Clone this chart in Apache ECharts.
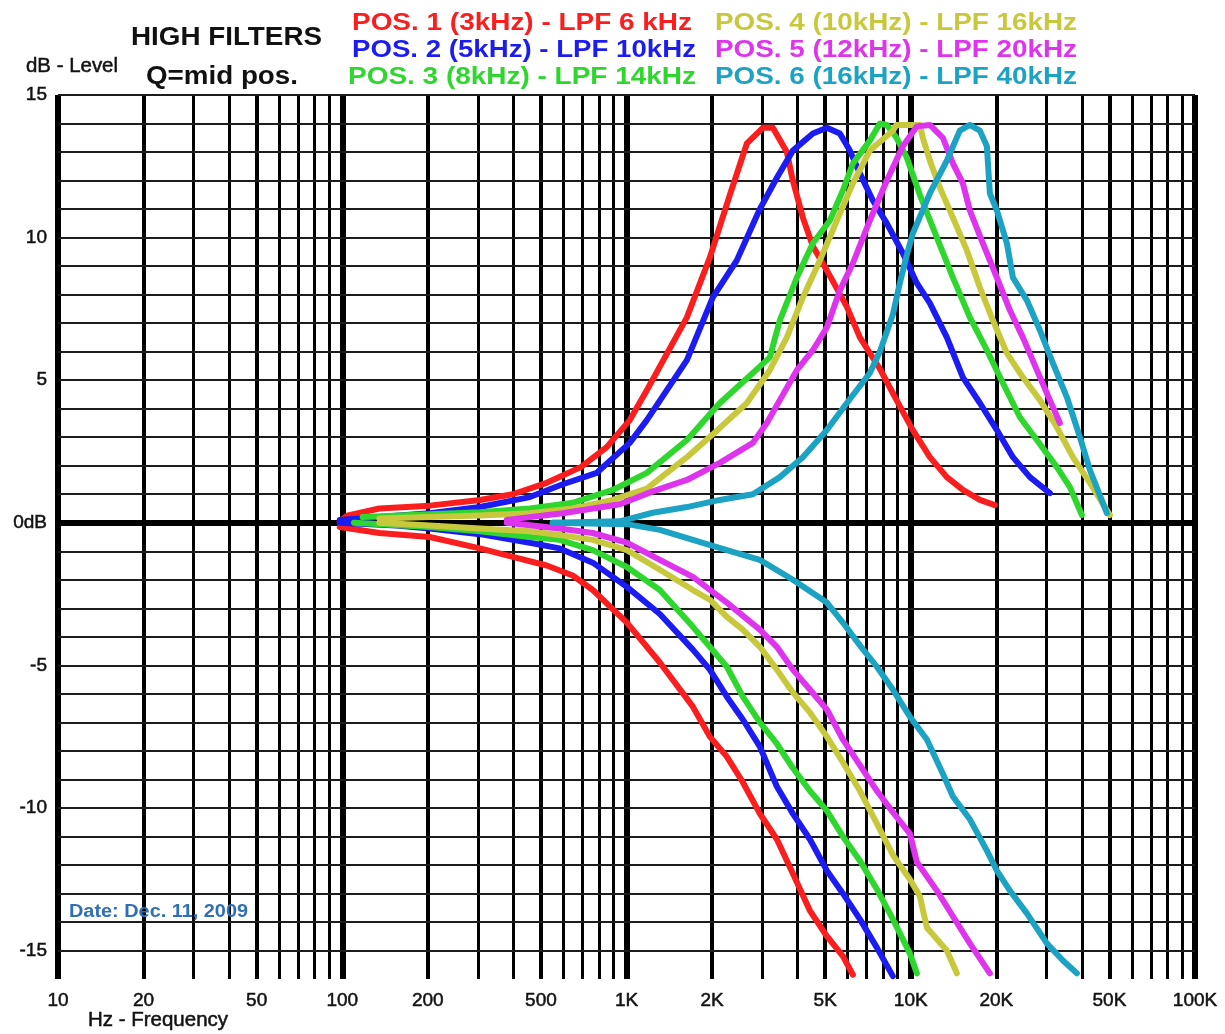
<!DOCTYPE html>
<html><head><meta charset="utf-8">
<script src="https://cdn.jsdelivr.net/npm/echarts@6/dist/echarts.min.js"></script>
<style>html,body{margin:0;padding:0;background:#fff}#c{width:1225px;height:1034px}</style>
</head><body><div id="c"></div>
<script>
// ---------- DATA ----------
const seriesNames = [
  'POS. 1 (3kHz) - LPF 6 kHz',
  'POS. 2 (5kHz) - LPF 10kHz',
  'POS. 3 (8kHz) - LPF 14kHz',
  'POS. 4 (10kHz) - LPF 16kHz',
  'POS. 5 (12kHz) - LPF 20kHz',
  'POS. 6 (16kHz) - LPF 40kHz'
];
const seriesColors = ['#fa1e1e', '#1c1cf2', '#2ed62e', '#c8c83c', '#de34ee', '#1ca2c2'];

const pos1Boost = [[98,0.05],[104,0.25],[135,0.5],[203,0.6],[305,0.8],[398,1.0],[524,1.4],[691,1.95],[852,2.65],[1027,3.6],[1179,4.65],[1631,7.2],[1964,9.3],[2310,11.5],[2651,13.3],[3018,13.85],[3272,13.85],[3665,13.0],[3848,12.0],[4173,10.7],[4525,9.7],[5069,8.85],[5962,7.57],[6622,6.5],[7786,5.4],[8913,4.3],[10171,3.25],[11675,2.3],[13396,1.6],[15255,1.15],[17505,0.8],[19768,0.62]];
const pos1Cut = [[98,-0.15],[135,-0.36],[203,-0.5],[305,-0.9],[398,-1.2],[524,-1.5],[647,-1.85],[761,-2.36],[1003,-3.5],[1310,-4.9],[1712,-6.45],[1964,-7.5],[2254,-8.2],[2566,-9.1],[2945,-10.2],[3380,-11.1],[3848,-12.3],[4416,-13.6],[5069,-14.5],[5770,-15.2],[6258,-15.85]];
const pos2Boost = [[98,0.1],[135,0.2],[203,0.33],[305,0.55],[457,0.9],[597,1.35],[786,1.75],[1027,2.8],[1179,3.6],[1631,5.7],[2012,7.9],[2444,9.2],[2945,11.0],[3380,12.1],[3848,13.05],[4525,13.65],[5069,13.85],[5632,13.65],[6107,13.05],[6622,12.25],[7357,11.3],[8240,10.5],[9380,9.45],[10507,8.4],[11675,7.7],[13396,6.5],[15255,5.1],[17505,4.2],[20090,3.25],[22875,2.3],[26250,1.6],[30860,1.04]];
const pos2Cut = [[98,0],[155,-0.1],[203,-0.2],[305,-0.4],[457,-0.7],[582,-0.9],[761,-1.4],[1003,-2.25],[1310,-3.2],[1712,-4.45],[1964,-5.15],[2254,-6.1],[2566,-6.9],[2945,-7.85],[3380,-9.25],[3848,-10.2],[4416,-11.1],[5069,-12.2],[5770,-13.0],[6622,-13.9],[7600,-14.9],[8650,-15.9]];
const pos3Boost = [[118,0.2],[203,0.3],[305,0.37],[457,0.5],[647,0.7],[895,1.15],[1179,1.75],[1631,2.9],[2130,4.2],[2783,5.25],[3193,5.8],[3463,7.1],[3975,8.6],[4525,9.8],[5194,10.6],[5770,11.65],[6258,12.6],[7180,13.4],[7786,14.0],[8240,13.95],[8913,13.5],[9689,12.8],[10766,11.5],[12357,10.0],[14067,8.6],[16142,7.2],[18528,6.05],[21090,4.9],[24210,3.7],[27780,2.9],[32670,1.95],[36290,1.25],[40000,0.27]];
const pos3Cut = [[110,0],[203,-0.15],[305,-0.3],[457,-0.5],[582,-0.6],[761,-0.96],[1003,-1.55],[1310,-2.36],[1712,-3.65],[1964,-4.35],[2254,-5.05],[2566,-6.1],[2945,-7.0],[3380,-7.75],[3848,-8.6],[4416,-9.4],[5069,-10.1],[5770,-11.0],[6622,-11.85],[7600,-12.85],[8650,-13.9],[9927,-15.1],[10507,-15.8]];
const pos4Boost = [[135,0.15],[203,0.2],[305,0.25],[457,0.33],[647,0.5],[895,0.8],[1179,1.2],[1631,2.3],[2012,3.1],[2651,4.2],[3193,5.35],[3665,6.5],[4173,7.9],[4789,9.2],[5496,10.6],[6258,11.9],[7180,13.05],[8650,13.75],[8913,13.95],[10766,13.95],[11030,13.5],[11675,12.7],[12660,11.75],[14067,10.7],[15757,9.55],[17505,8.25],[19451,7.1],[21785,5.95],[24800,5.1],[28470,4.3],[32670,3.35],[37190,2.3],[42680,1.4],[50190,0.27]];
const pos4Cut = [[135,0],[203,-0.1],[305,-0.2],[457,-0.3],[582,-0.43],[761,-0.6],[1003,-0.96],[1310,-1.65],[1712,-2.36],[1964,-2.7],[2254,-3.3],[2566,-3.75],[2945,-4.35],[3380,-5.15],[3848,-5.95],[4416,-6.65],[5069,-7.5],[5770,-8.4],[6622,-9.4],[7600,-10.55],[8650,-11.65],[9927,-12.5],[10766,-13.1],[11395,-14.2],[13396,-15.0],[14530,-15.8]];
const pos5Boost = [[379,0.1],[597,0.33],[947,0.65],[1237,1.1],[1631,1.5],[2130,2.1],[2783,2.8],[3117,3.5],[3463,4.3],[3975,5.35],[4525,6.05],[5069,6.85],[5632,8.15],[6258,9.1],[7180,10.6],[8240,12.0],[9380,13.2],[10507,13.9],[11675,13.95],[12972,13.5],[14067,12.6],[15255,11.9],[16142,10.95],[17938,9.8],[20090,8.6],[22325,7.45],[24800,6.5],[27780,5.35],[30860,4.3],[33470,3.5]];
const pos5Cut = [[379,0],[582,-0.2],[761,-0.36],[1003,-0.7],[1310,-1.3],[1712,-1.9],[2254,-2.8],[2945,-3.75],[3380,-4.35],[3848,-5.15],[4416,-5.85],[5069,-6.55],[5770,-7.6],[6622,-8.5],[7600,-9.4],[8650,-10.15],[9927,-10.9],[10507,-11.9],[12357,-12.9],[14067,-13.8],[16142,-14.75],[18983,-15.8]];
const pos6Boost = [[550,0],[947,0.05],[1237,0.35],[1631,0.55],[2130,0.8],[2783,1.0],[3463,1.6],[4173,2.3],[5069,3.25],[5962,4.2],[7180,5.25],[7786,6.0],[8650,7.3],[9154,8.4],[9689,9.4],[10171,10.15],[11675,11.55],[13396,12.7],[14880,13.75],[16142,13.95],[17505,13.75],[18528,13.2],[18983,11.55],[20090,10.95],[21785,9.8],[22875,8.6],[25620,7.8],[28470,6.75],[31620,5.6],[35430,4.4],[39360,3.0],[42680,1.85],[48980,0.34]];
const pos6Cut = [[550,0],[1003,-0.05],[1310,-0.25],[1712,-0.6],[2254,-0.96],[2945,-1.3],[3848,-2.0],[5069,-2.8],[5770,-3.5],[6622,-4.3],[7600,-5.05],[8650,-5.85],[9927,-6.8],[11395,-7.6],[12972,-8.8],[14067,-9.6],[16142,-10.4],[18528,-11.5],[20090,-12.2],[22325,-12.9],[25620,-13.7],[30120,-14.75],[34300,-15.35],[38410,-15.8]];

const gridFreqs = [10,20,30,40,50,60,70,80,90,100,200,300,400,500,600,700,800,900,1000,2000,3000,4000,5000,6000,7000,8000,9000,10000,20000,30000,40000,50000,60000,70000,80000,90000,100000];
const tickFreqs = [10,20,50,100,200,500,1000,2000,5000,10000,20000,50000,100000];
const tickLabels = ['10','20','50','100','200','500','1K','2K','5K','10K','20K','50K','100K'];
const dbLines = [-15,-14,-13,-12,-11,-10,-9,-8,-7,-6,-5,-4,-3,-2,-1,0,1,2,3,4,5,6,7,8,9,10,11,12,13,14,15];
const yMin = -16, yMax = 15;

// ---------- CHART ----------
const FONT = '"Liberation Sans", Arial, Helvetica, sans-serif';
const chart = echarts.init(document.getElementById('c'), null, {renderer: 'canvas'});

const curveSets = [[pos1Boost,pos1Cut],[pos2Boost,pos2Cut],[pos3Boost,pos3Cut],[pos4Boost,pos4Cut],[pos5Boost,pos5Cut],[pos6Boost,pos6Cut]];

function isDecade(f){ const l = Math.log10(f); return Math.abs(l - Math.round(l)) < 1e-9; }

const vLines = gridFreqs.map(f => {
  const ti = tickFreqs.indexOf(f);
  const d = isDecade(f);
  const mult = Math.round(f / Math.pow(10, Math.floor(Math.log10(f) + 1e-9)));
  const item = {
    xAxis: f,
    lineStyle: {width: d ? 6 : ((mult === 2 || mult === 5) ? 4 : 3), color: '#000', type: 'solid'}
  };
  if (ti >= 0) {
    item.label = {show: true, position: 'start', formatter: tickLabels[ti], distance: 12,
      fontSize: 19, fontFamily: FONT, color: '#111', textBorderColor: '#111', textBorderWidth: 0.5};
  }
  return item;
});
const hLines = dbLines.map(v => ({
  yAxis: v,
  lineStyle: {width: v === 0 ? 6 : 2, color: v === 0 ? '#000' : '#1c1c1c', type: 'solid'}
}));

const series = [{
  type: 'line', data: [], z: 1, silent: true,
  markLine: {silent: true, symbol: ['none','none'], animation: false, precision: 6,
    label: {show: false}, emphasis: {disabled: true},
    data: vLines.concat(hLines)}
}];
curveSets.forEach((pair, i) => {
  pair.forEach(d => {
    series.push({
      name: seriesNames[i], type: 'line', data: d, z: 5 + i,
      showSymbol: false, symbol: 'none', smooth: false, silent: true,
      lineStyle: {width: 6, color: seriesColors[i], cap: 'round', join: 'round'},
      itemStyle: {color: seriesColors[i]}, animation: false
    });
  });
});

const mctx = document.createElement('canvas').getContext('2d');
function fitText(text, left, cy, width, size, weight, color, stroke) {
  const font = weight + ' ' + size + 'px ' + FONT;
  mctx.font = font;
  const w = mctx.measureText(text).width;
  const style = {text: text, font: font, fill: color, align: 'left', verticalAlign: 'middle'};
  if (stroke) { style.stroke = color; style.lineWidth = stroke; }
  return {type: 'text', x: left, y: cy, scaleX: width / w, silent: true, z: 100, style: style};
}
const legendCols = [352, 715];
const legendRowsY = [23, 50, 77];
const legendWidths = [340, 344, 348, 362, 362, 362];
const graphics = [
  fitText('HIGH FILTERS', 131, 38, 191, 26, 'bold', '#111'),
  fitText('Q=mid pos.', 146, 77, 152, 26, 'bold', '#111'),
  fitText('dB - Level', 26, 66, 92, 20, 'normal', '#111', 0.5),
  fitText('Hz - Frequency', 88, 1020, 140, 20, 'normal', '#111', 0.5),
  fitText('Date: Dec. 11, 2009', 69, 912, 179, 18, 'bold', '#2f6fb6')
];
seriesNames.forEach((n, i) => {
  const col = Math.floor(i / 3), row = i % 3;
  graphics.push(fitText(n, legendCols[col] - (i === 2 ? 4 : 0), legendRowsY[row], legendWidths[i], 24, 'bold', seriesColors[i]));
});

chart.setOption({
  animation: false,
  backgroundColor: '#fff',
  grid: {left: 58, right: 30, top: 95, bottom: 55, containLabel: false},
  xAxis: {type: 'log', logBase: 10, min: 10, max: 100000,
    axisLine: {show: false}, axisTick: {show: false}, axisLabel: {show: false}, splitLine: {show: false}},
  yAxis: {type: 'value', min: yMin, max: yMax, interval: 1,
    axisLine: {show: false}, axisTick: {show: false}, splitLine: {show: false},
    axisLabel: {show: true, margin: 11, fontSize: 19, fontFamily: FONT, color: '#111',
      textBorderColor: '#111', textBorderWidth: 0.5,
      formatter: v => (v % 5 === 0 ? (v === 0 ? '0dB' : String(v)) : '')}},
  series: series,
  graphic: graphics
});
</script></body></html>
